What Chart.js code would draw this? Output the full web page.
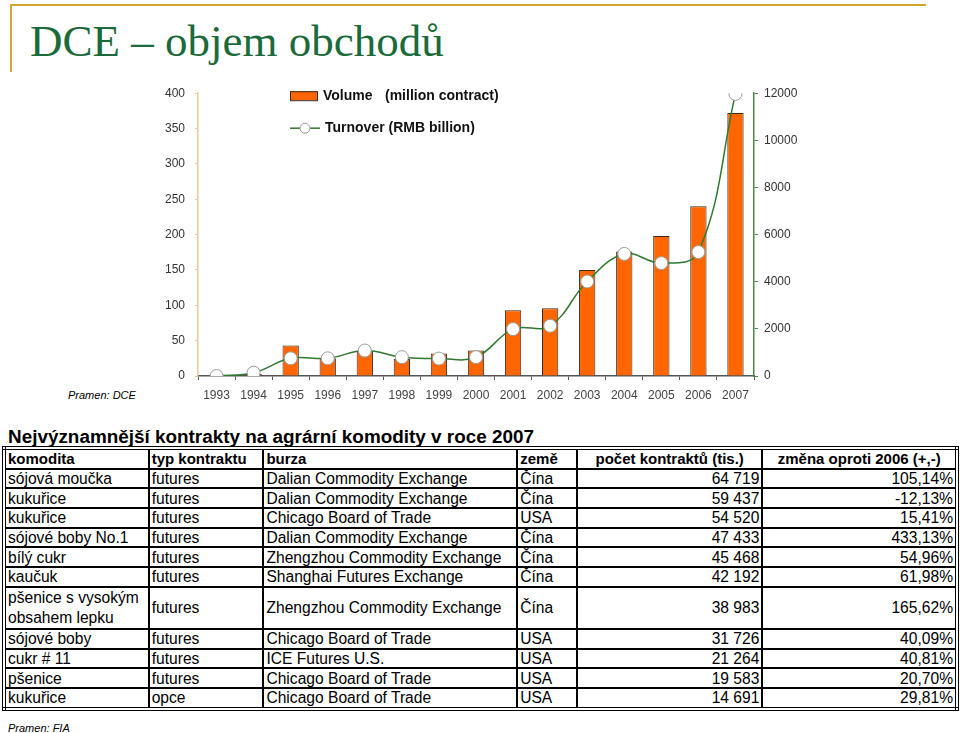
<!DOCTYPE html>
<html lang="cs">
<head>
<meta charset="utf-8">
<script src="https://cdn.jsdelivr.net/npm/chart.js@4.4.1/dist/chart.umd.min.js"></script>
<style>
    body { margin: 0; width: 960px; height: 733px; background: #fff; position: relative; overflow: hidden; font-family: "Liberation Sans", Arial, sans-serif; }
    .frame-top { position: absolute; left: 10px; top: 4px; width: 916px; height: 2px; background: #d4a72c; }
    .frame-left { position: absolute; left: 10px; top: 4px; width: 2px; height: 68px; background: #d4a72c; }
    h1 { position: absolute; left: 30px; top: 14px; margin: 0; font-family: "Liberation Serif", serif; font-weight: normal; font-size: 45px; line-height: 54px; color: #1b6a3a; }
    #chart-box { position: absolute; left: 150px; top: 76px; width: 660px; height: 329px; }
    .src { position: absolute; font-style: italic; font-size: 11px; color: #000; }
    h2 { position: absolute; left: 8px; top: 426px; margin: 0; font-size: 18.9px; font-weight: bold; }
    table { position: absolute; left: 2px; top: 446px; width: 957px; border-collapse: collapse; border: 4px double #000; font-size: 15.6px; }
    td, th { border: 2px solid #000; padding: 0 2px; height: 17.7px; line-height: 17px; text-align: left; white-space: nowrap; }
    th { font-weight: bold; font-size: 15px; }
    th.center { text-align: center; }
    td.num { text-align: right; }
    td.wrap { white-space: normal; line-height: 20px; }
</style>
</head>
<body>
<div class="frame-top"></div>
<div class="frame-left"></div>
<h1>DCE – objem obchodů</h1>
<div id="chart-box"><canvas id="dce-chart"></canvas></div>
<div class="src" style="left:68px; top:389px;">Pramen: DCE</div>
<h2>Nejvýznamnější kontrakty na agrární komodity v roce 2007</h2>
<table id="contracts">
    <colgroup>
        <col style="width:145px"><col style="width:115px"><col style="width:254px">
        <col style="width:60px"><col style="width:186px"><col style="width:195px">
    </colgroup>
    <thead></thead>
    <tbody></tbody>
</table>
<div class="src" style="left:8px; top:722px;">Pramen: FIA</div>

<script>
// data z grafu DCE
const years = ['1993', '1994', '1995', '1996', '1997', '1998', '1999', '2000', '2001', '2002', '2003', '2004', '2005', '2006', '2007'];
const volume = [0, 3, 43, 25, 35, 24, 32, 36, 93, 96, 150, 176, 198, 240, 372];
const turnover = [0, 140, 750, 750, 1080, 800, 740, 800, 1990, 2130, 4010, 5180, 4790, 5260, 11970];
const volumeTicks = [0, 50, 100, 150, 200, 250, 300, 350, 400];
const turnoverTicks = [0, 2000, 4000, 6000, 8000, 10000, 12000];

// tabulka kontraktu
const tableHeader = ['komodita', 'typ kontraktu', 'burza', 'země', 'počet kontraktů (tis.)', 'změna oproti 2006 (+,-)'];
const commodities = ['sójová moučka', 'kukuřice', 'kukuřice', 'sójové boby No.1', 'bílý cukr', 'kaučuk', 'pšenice s vysokým obsahem lepku', 'sójové boby', 'cukr # 11', 'pšenice', 'kukuřice'];
const contractTypes = ['futures', 'futures', 'futures', 'futures', 'futures', 'futures', 'futures', 'futures', 'futures', 'futures', 'opce'];
const exchanges = ['Dalian Commodity Exchange', 'Dalian Commodity Exchange', 'Chicago Board of Trade', 'Dalian Commodity Exchange', 'Zhengzhou Commodity Exchange', 'Shanghai Futures Exchange', 'Zhengzhou Commodity Exchange', 'Chicago Board of Trade', 'ICE Futures U.S.', 'Chicago Board of Trade', 'Chicago Board of Trade'];
const countries = ['Čína', 'Čína', 'USA', 'Čína', 'Čína', 'Čína', 'Čína', 'USA', 'USA', 'USA', 'USA'];
const contractCounts = ['64 719', '59 437', '54 520', '47 433', '45 468', '42 192', '38 983', '31 726', '21 264', '19 583', '14 691'];
const changes = ['105,14%', '-12,13%', '15,41%', '433,13%', '54,96%', '61,98%', '165,62%', '40,09%', '40,81%', '20,70%', '29,81%'];

const ORANGE = '#ff6600';
const GREEN = '#2f7a2f';

// sestaveni tabulky
const thead = document.querySelector('#contracts thead');
thead.innerHTML = '<tr>' + tableHeader.map((h, i) => `<th class="${i > 3 ? 'center' : ''}">${h}</th>`).join('') + '</tr>';
const tbody = document.querySelector('#contracts tbody');
commodities.forEach((c, i) => {
    const tr = document.createElement('tr');
    const wrap = c.length > 20;
    tr.innerHTML = `<td class="${wrap ? 'wrap' : ''}">${c}</td><td>${contractTypes[i]}</td><td>${exchanges[i]}</td>` +
        `<td>${countries[i]}</td><td class="num">${contractCounts[i]}</td><td class="num">${changes[i]}</td>`;
    tbody.appendChild(tr);
});

// legenda uvnitr grafu (pozice vuci hornimu okraji plochy grafu)
const insideLegend = {
    id: 'insideLegend',
    afterDatasetsDraw(chart) {
        const ctx = chart.ctx;
        const x = chart.chartArea.left + 92;
        const top = chart.chartArea.top;
        const line = chart.data.datasets[0];
        const bar = chart.data.datasets[1];
        ctx.save();
        ctx.font = 'bold 14px "Liberation Sans", Arial, sans-serif';
        ctx.textBaseline = 'middle';
        ctx.fillStyle = bar.backgroundColor;
        ctx.fillRect(x, top - 2, 27, 9);
        ctx.strokeStyle = bar.borderColor;
        ctx.lineWidth = 1;
        ctx.strokeRect(x + 0.5, top - 1.5, 27, 9);
        ctx.fillStyle = '#111';
        ctx.fillText('Volume', x + 33, top + 3);
        ctx.fillText('(million contract)', x + 95, top + 3);

        ctx.strokeStyle = line.borderColor;
        ctx.lineWidth = 1.5;
        ctx.beginPath();
        ctx.moveTo(x, top + 35);
        ctx.lineTo(x + 30, top + 35);
        ctx.stroke();
        ctx.beginPath();
        ctx.arc(x + 15, top + 35, 5, 0, Math.PI * 2);
        ctx.fillStyle = '#fff';
        ctx.fill();
        ctx.strokeStyle = line.pointBorderColor;
        ctx.lineWidth = 1;
        ctx.stroke();
        ctx.fillStyle = '#111';
        ctx.fillText('Turnover (RMB billion)', x + 35, top + 35);
        ctx.restore();
    }
};

const tickFont = { family: '"Liberation Sans", Arial, sans-serif', size: 12 };

new Chart(document.getElementById('dce-chart').getContext('2d'), {
    data: {
        labels: years,
        datasets: [{
            type: 'line',
            label: 'Turnover (RMB billion)',
            data: turnover,
            yAxisID: 'y1',
            borderColor: GREEN,
            borderWidth: 1.5,
            tension: 0.4,
            pointRadius: 6.5,
            pointBackgroundColor: '#fff',
            pointBorderColor: '#9a9a9a',
            pointBorderWidth: 1
        }, {
            type: 'bar',
            label: 'Volume (million contract)',
            data: volume,
            yAxisID: 'y',
            backgroundColor: ORANGE,
            borderColor: '#3a2a20',
            borderWidth: 1,
            categoryPercentage: 1,
            barPercentage: 0.44
        }]
    },
    options: {
        responsive: true,
        maintainAspectRatio: false,
        animation: false,
        layout: { padding: { top: 9, left: 0, right: 0, bottom: 0 } },
        plugins: { legend: { display: false }, tooltip: { enabled: false } },
        scales: {
            x: {
                offset: true,
                grid: { display: true, drawOnChartArea: false, tickLength: 4, color: '#555' },
                border: { color: '#555', width: 1.5 },
                ticks: { font: tickFont, color: '#444', maxRotation: 0, autoSkip: false, padding: 8 },
                afterFit: (scale) => { scale.height = 29; }
            },
            y: {
                position: 'left',
                min: 0,
                max: 400,
                grid: { drawOnChartArea: false, tickLength: 3, color: '#e6c99c' },
                border: { color: '#e6c99c', width: 1.5 },
                afterBuildTicks: (scale) => { scale.ticks = volumeTicks.map(v => ({ value: v })); },
                ticks: { font: tickFont, color: '#333', padding: 10 },
                afterFit: (scale) => { scale.width = 48; }
            },
            y1: {
                position: 'right',
                min: 0,
                max: 12000,
                grid: { drawOnChartArea: false, tickLength: 4, color: '#4a8a4a' },
                border: { color: '#4a8a4a', width: 1.5 },
                afterBuildTicks: (scale) => { scale.ticks = turnoverTicks.map(v => ({ value: v })); },
                ticks: { font: tickFont, color: '#333', padding: 6, callback: (v) => String(v) },
                afterFit: (scale) => { scale.width = 56; }
            }
        }
    },
    plugins: [insideLegend]
});
</script>
</body>
</html>
